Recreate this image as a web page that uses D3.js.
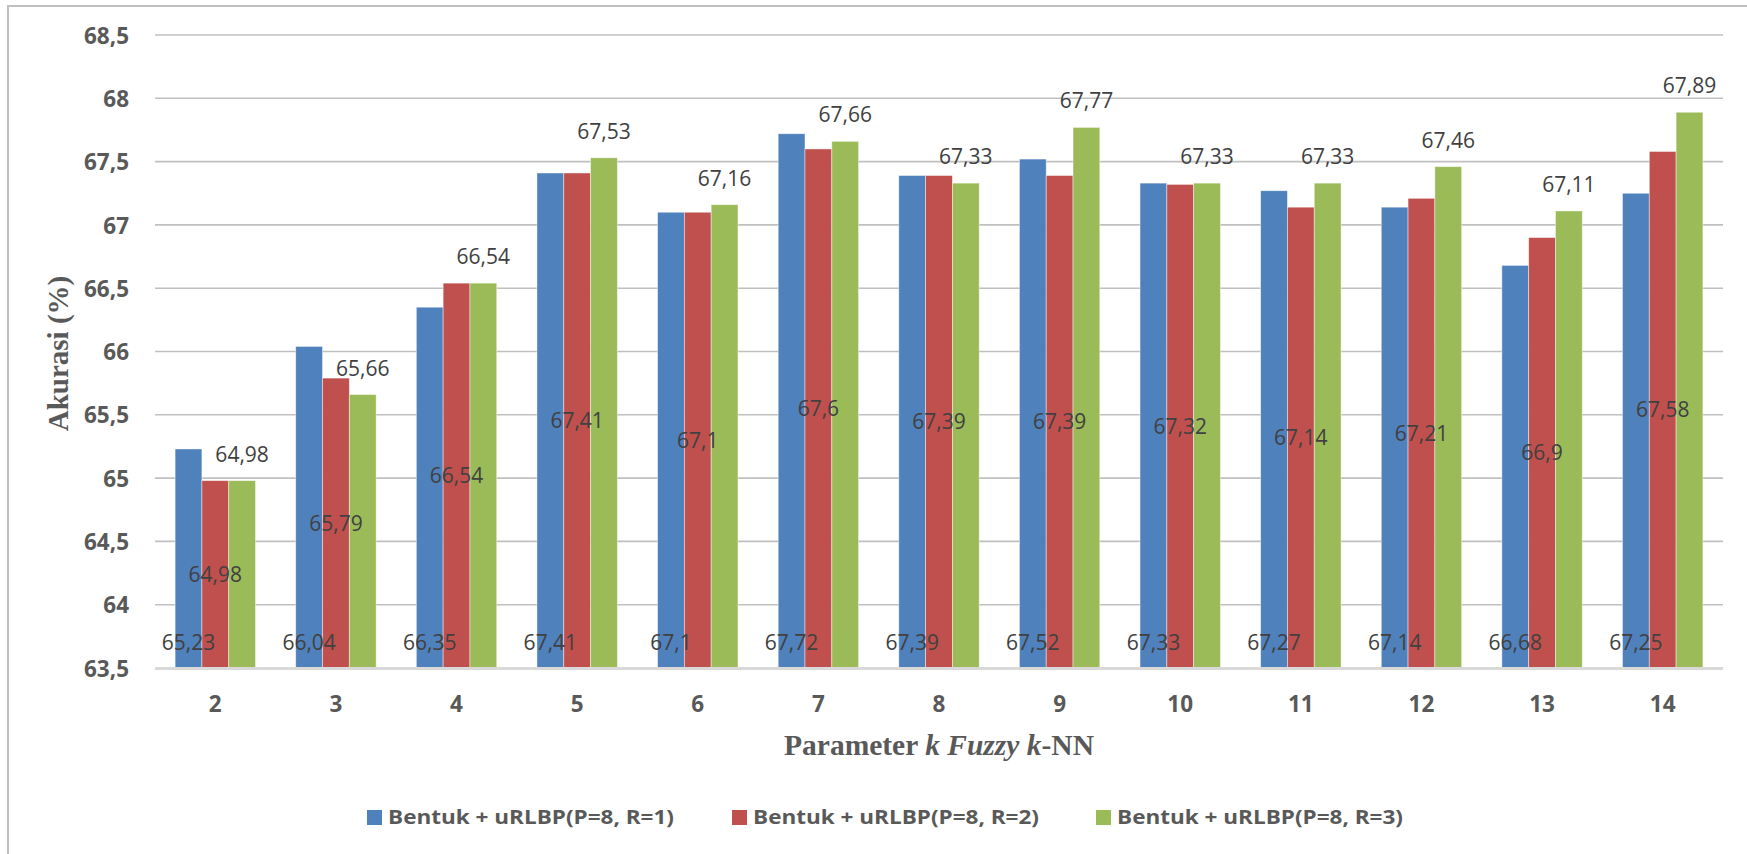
<!DOCTYPE html>
<html>
<head>
<meta charset="utf-8">
<script src="https://cdn.jsdelivr.net/npm/d3@7"></script>
<style>
  html, body { margin: 0; padding: 0; background: #fff; }
  svg { display: block; }
</style>
</head>
<body>
<svg id="chart" width="1747" height="854"></svg>
<script>
// Accuracy of shape + uRLBP features for each k of Fuzzy k-NN
const categories = ["2", "3", "4", "5", "6", "7", "8", "9", "10", "11", "12", "13", "14"];
const seriesNames = [
  "Bentuk + uRLBP(P=8, R=1)",
  "Bentuk + uRLBP(P=8, R=2)",
  "Bentuk + uRLBP(P=8, R=3)"
];
const valuesR1 = [65.23, 66.04, 66.35, 67.41, 67.1, 67.72, 67.39, 67.52, 67.33, 67.27, 67.14, 66.68, 67.25];
const valuesR2 = [64.98, 65.79, 66.54, 67.41, 67.1, 67.6, 67.39, 67.39, 67.32, 67.14, 67.21, 66.9, 67.58];
const valuesR3 = [64.98, 65.66, 66.54, 67.53, 67.16, 67.66, 67.33, 67.77, 67.33, 67.33, 67.46, 67.11, 67.89];
const yTicks = [63.5, 64, 64.5, 65, 65.5, 66, 66.5, 67, 67.5, 68, 68.5];
const yTitle = "Akurasi (%)";

const series = [valuesR1, valuesR2, valuesR3];
const colors = ["#4F81BD", "#C0504D", "#9BBB59"];
// label placement per series: inside base, centered, outside end
const labelPos = ["insideBase", "center", "outsideEnd"];

const svg = d3.select("#chart");
const plot = { left: 155, right: 1723, top: 35, bottom: 668 };
const axisColor = "#595959";
const labelColor = "#404040";
const sans = "'Open Sans', 'Noto Sans', sans-serif";
const serif = "'Liberation Serif', 'DejaVu Serif', serif";
const commaNum = v => String(v).replace(".", ",");

// chart frame
svg.append("path")
  .attr("d", `M8,860 L8,6 L1760,6`)
  .attr("fill", "none")
  .attr("stroke", "#BFBFBF")
  .attr("stroke-width", 2);

const x = d3.scaleBand()
  .domain(categories)
  .range([plot.left, plot.right])
  .paddingInner(1 / 3)
  .paddingOuter(1 / 6);

const xs = d3.scaleBand()
  .domain(d3.range(series.length))
  .range([0, x.bandwidth()]);

const y = d3.scaleLinear()
  .domain([yTicks[0], yTicks[yTicks.length - 1]])
  .range([plot.bottom, plot.top]);

// horizontal gridlines
svg.append("g")
  .selectAll("line")
  .data(yTicks.slice(1))
  .join("line")
  .attr("x1", plot.left)
  .attr("x2", plot.right)
  .attr("y1", d => y(d))
  .attr("y2", d => y(d))
  .attr("stroke", "#C0C0C0")
  .attr("stroke-width", 1.6);

// y axis labels
const yAxis = svg.append("g")
  .attr("transform", `translate(${plot.left},0)`)
  .call(d3.axisLeft(y).tickValues(yTicks).tickSize(0).tickPadding(26).tickFormat(commaNum));
yAxis.select(".domain").remove();
yAxis.selectAll("text")
  .attr("fill", axisColor)
  .attr("font-family", sans)
  .attr("font-weight", "bold")
  .attr("font-size", 22.5)
  .attr("dy", "0.36em");

// bars
const groups = svg.append("g")
  .selectAll("g")
  .data(categories)
  .join("g")
  .attr("transform", d => `translate(${x(d)},0)`);

groups.selectAll("rect")
  .data((c, i) => series.map((s, si) => ({ si, v: s[i] })))
  .join("rect")
  .attr("x", d => xs(d.si))
  .attr("width", xs.bandwidth())
  .attr("y", d => y(d.v))
  .attr("height", d => y(yTicks[0]) - y(d.v))
  .attr("fill", d => colors[d.si])
  .attr("stroke", "#ffffff")
  .attr("stroke-opacity", 0.55)
  .attr("stroke-width", 0.8);

// data labels
groups.selectAll("text")
  .data((c, i) => series.map((s, si) => ({ si, v: s[i] })))
  .join("text")
  .attr("x", d => xs(d.si) + xs.bandwidth() / 2)
  .attr("y", d => {
    const pos = labelPos[d.si];
    if (pos === "insideBase") return y(yTicks[0]) - 18;
    if (pos === "center") return (y(d.v) + y(yTicks[0])) / 2 + 7.5;
    return y(d.v) - 19;
  })
  .attr("text-anchor", "middle")
  .attr("fill", labelColor)
  .attr("font-family", sans)
  .attr("font-size", 21)
  .text(d => commaNum(d.v));

// baseline axis
svg.append("line")
  .attr("x1", plot.left)
  .attr("x2", plot.right)
  .attr("y1", plot.bottom + 0.5)
  .attr("y2", plot.bottom + 0.5)
  .attr("stroke", "#D9D9D9")
  .attr("stroke-width", 3);

// x axis labels
const xAxis = svg.append("g")
  .attr("transform", `translate(0,${plot.bottom})`)
  .call(d3.axisBottom(x).tickSize(0).tickPadding(0));
xAxis.select(".domain").remove();
xAxis.selectAll("text")
  .attr("fill", axisColor)
  .attr("font-family", sans)
  .attr("font-weight", "bold")
  .attr("font-size", 22.5)
  .attr("dy", null)
  .attr("y", 44);

// axis titles
svg.append("text")
  .attr("transform", `translate(68,${(plot.top + plot.bottom) / 2 + 2}) rotate(-90)`)
  .attr("text-anchor", "middle")
  .attr("fill", axisColor)
  .attr("font-family", serif)
  .attr("font-weight", "bold")
  .attr("font-size", 29)
  .text(yTitle);

const xTitle = svg.append("text")
  .attr("x", (plot.left + plot.right) / 2)
  .attr("y", 755)
  .attr("text-anchor", "middle")
  .attr("fill", axisColor)
  .attr("font-family", serif)
  .attr("font-weight", "bold")
  .attr("font-size", 29.5);
xTitle.append("tspan").text("Parameter ");
xTitle.append("tspan").attr("font-style", "italic").text("k Fuzzy k");
xTitle.append("tspan").text("-NN");

// legend
const legendX = [367, 732, 1096];
const legend = svg.append("g")
  .selectAll("g")
  .data(seriesNames)
  .join("g")
  .attr("transform", (d, i) => `translate(${legendX[i]},810)`);
legend.append("rect")
  .attr("width", 15)
  .attr("height", 15)
  .attr("fill", (d, i) => colors[i]);
legend.append("text")
  .attr("x", 21)
  .attr("y", 14)
  .attr("fill", axisColor)
  .attr("font-family", sans)
  .attr("font-weight", "bold")
  .attr("font-size", 20)
  .attr("textLength", 286)
  .attr("lengthAdjust", "spacingAndGlyphs")
  .text(d => d);
</script>
</body>
</html>
